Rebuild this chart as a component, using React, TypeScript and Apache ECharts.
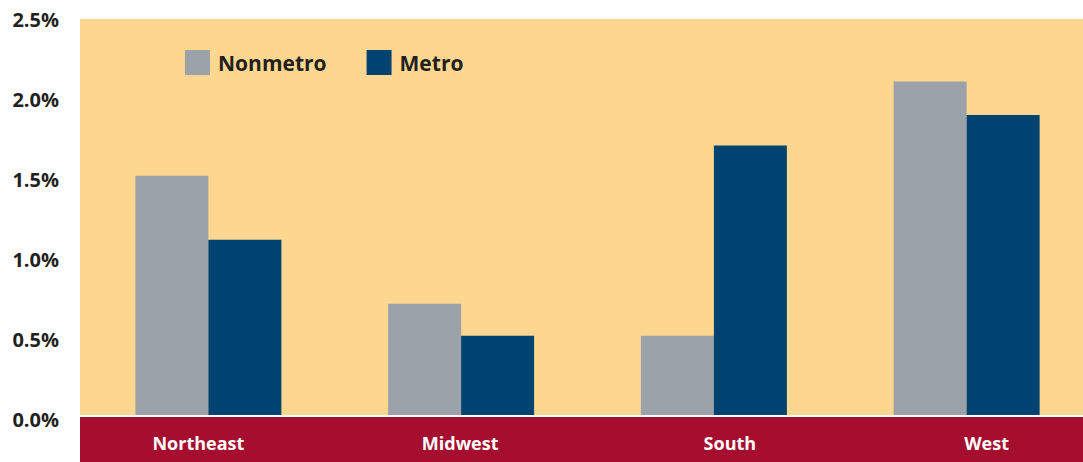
import React, { useEffect, useRef } from "react";
import * as echarts from "echarts";

const categories = ["Northeast", "Midwest", "South", "West"];
const nonmetro = [1.52, 0.72, 0.52, 2.11];
const metro = [1.12, 0.52, 1.71, 1.9];
const yTicks = [0, 0.5, 1.0, 1.5, 2.0, 2.5];
const labelShift = { Northeast: -10, Midwest: -1, South: 16, West: 20 } as Record<string, number>;

const FONT = "'Open Sans', 'Noto Sans', sans-serif";

export default function App() {
  const ref = useRef<HTMLDivElement>(null);
  useEffect(() => {
    if (!ref.current) return;
    const chart = echarts.init(ref.current, undefined, { renderer: "svg" });
    const rich: Record<string, any> = {};
    categories.forEach((c, i) => {
      const s = labelShift[c];
      rich["c" + i] = {
        fontFamily: FONT,
        fontWeight: "bold",
        fontSize: 18,
        color: "#ffffff",
        padding: s >= 0 ? [0, 0, 0, 2 * s] : [0, -2 * s, 0, 0],
      };
    });
    chart.setOption({
      animation: false,
      backgroundColor: "#ffffff",
      grid: { left: 82, right: 7, top: 19, bottom: 43, containLabel: false },
      legend: {
        left: 185,
        top: 50,
        padding: 0,
        itemWidth: 25,
        itemHeight: 25,
        itemGap: 40,
        icon: "rect",
        textStyle: {
          fontFamily: FONT,
          fontWeight: "bold",
          fontSize: 21,
          color: "#231f20",
          padding: [0, 0, 0, 3],
        },
        data: ["Nonmetro", "Metro"],
      },
      graphic: [
        { type: "rect", z: 0, silent: true, shape: { x: 80, y: 19, width: 1003, height: 396 }, style: { fill: "#fdd78f" } },
        { type: "rect", z: 10, silent: true, shape: { x: 80, y: 415, width: 1003, height: 2 }, style: { fill: "#ffffff" } },
        { type: "rect", z: 10, silent: true, shape: { x: 80, y: 417, width: 1003, height: 45 }, style: { fill: "#a50e2f" } },
      ],
      xAxis: {
        type: "category",
        data: categories,
        z: 20,
        axisLine: { show: false },
        axisTick: { show: false },
        axisLabel: {
          margin: 15,
          interval: 0,
          formatter: (v: string) => `{c${categories.indexOf(v)}|${v}}`,
          rich,
        },
      },
      yAxis: {
        type: "value",
        min: 0,
        max: 2.5,
        interval: 0.5,
        splitLine: { show: false },
        axisLine: { show: false },
        axisTick: { show: false },
        axisLabel: {
          margin: 23,
          fontFamily: FONT,
          fontWeight: "bold",
          fontSize: 20,
          color: "#231f20",
          formatter: (v: number) => (yTicks.includes(v) ? v.toFixed(1) + "%" : ""),
        },
      },
      series: [
        {
          name: "Nonmetro",
          type: "bar",
          data: nonmetro,
          barWidth: 73,
          barGap: "0%",
          itemStyle: { color: "#9ba2aa" },
        },
        {
          name: "Metro",
          type: "bar",
          data: metro,
          barWidth: 73,
          barGap: "0%",
          itemStyle: { color: "#004270" },
        },
      ],
    });
    return () => chart.dispose();
  }, []);
  return (
    <div style={{ width: 1083, height: 462, position: "absolute", left: 0, top: 0, overflow: "hidden" }}>
      <div ref={ref} style={{ width: 1100, height: 462 }} />
    </div>
  );
}
